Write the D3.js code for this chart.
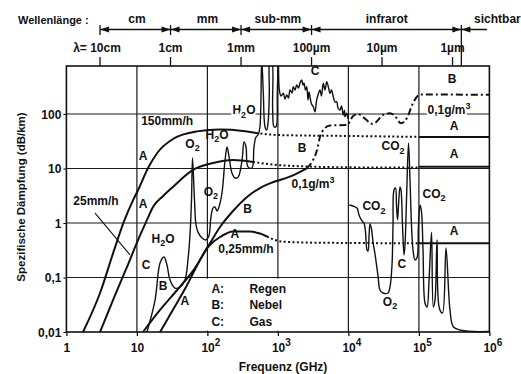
<!DOCTYPE html>
<html>
<head>
<meta charset="utf-8">
<script src="https://cdn.jsdelivr.net/npm/d3@7"></script>
<style>
  body { margin: 0; background: #fff; }
  text { font-family: "Liberation Sans", Arial, sans-serif; font-weight: bold; font-size: 12px; fill: #111; }
</style>
</head>
<body>
<svg id="chart" width="521" height="374"></svg>
<script>
// axes (frequency in GHz, attenuation in dB/km)
const xTicks = [1, 10, 100, 1e3, 1e4, 1e5, 1e6];
const xTickExp = ["", "", "2", "3", "4", "5", "6"];
const yTicks = [0.01, 0.1, 1, 10, 100];
const yTickLabels = ["0,01", "0,1", "1", "10", "100"];

// wavelength scale on top
const lambdaFreqs = [3, 30, 300, 3000, 30000, 300000];
const lambdaLabels = ["λ= 10cm", "1cm", "1mm", "100µm", "10µm", "1µm"];
const bandEdges = [3, 30, 300, 3000, 400000];
const bandNames = ["cm", "mm", "sub-mm", "infrarot", "sichtbar"];
const bandNameFreqs = [10, 100, 1000, 35000, 1.3e6];

// A: Regen (rain) 150mm/h
const rain150 = [[1.72,0.01],[3.0,0.052],[4.6,0.28],[6.6,1.09],[8.8,2.6],[10.4,4.04],[14.4,10.2],[19.9,20.1],[32.5,34.8],[71,48],[150,52],[320,49],[490,45]];
const rain150Dot = [[490,45],[1070,41],[10500,39.5],[1e5,38]];
const rain150Ir = [[1e5,38],[1e6,38]];
// A: Regen 25mm/h
const rain25 = [[3.0,0.01],[4.58,0.0386],[7.24,0.156],[10.4,0.49],[13.9,1.14],[16.9,1.97],[23.4,3.1],[32.5,4.6],[62.5,9.4],[120,12.6],[231,14.3],[443,13.2]];
const rain25Dot = [[443,13.2],[1070,11.5],[10500,10.5],[1e5,10.4]];
const rain25Ir = [[1e5,10.8],[1e6,10.8]];
// A: Regen 0,25mm/h
const rain025 = [[21.3,0.01],[48,0.0615],[105,0.378],[151,0.553],[231,0.70],[402,0.70],[556,0.64],[700,0.565]];
const rain025Dot = [[700,0.565],[1180,0.454],[3580,0.435],[1e5,0.425]];
const rain025Ir = [[1e5,0.425],[1e6,0.425]];

// B: Nebel (fog) 0,1g/m3
const fog = [[12.2,0.01],[21.3,0.0254],[38.3,0.0615],[66.7,0.149],[105,0.394],[151,0.845],[231,1.66],[365,3.0],[556,4.38],[771,5.35],[1480,7.08],[2565,10.1]];
const fogDash = [[2565,10.1],[3150,14.3],[3590,21.8],[3950,37.8],[4510,53],[5490,61.5],[9570,62.8],[11660,91.8],[13700,100],[16100,88],[22300,65.6],[31000,96],[38900,103],[45800,91.8],[55600,67.5],[67700,84.5],[82400,159],[104000,228],[1e6,225]];

// C: Gas
const gasMw = [[13.9,0.01],[18.1,0.0386],[21.3,0.185],[24.2,0.238],[26.7,0.17],[29.5,0.09],[34.7,0.064],[40.8,0.067],[48,0.09],[53,0.21],[56.6,0.6],[59.5,2.64],[61.5,15.6],[65.6,2.64],[68.9,0.92],[73.6,0.68],[83.8,0.53],[95.5,0.49],[105,0.58],[112,1.24],[120,1.88],[128,1.97],[137,1.66],[146,1.97],[161,3.55],[178,14.3],[190,24.8],[203,16.3],[223,8.3],[247,6.7],[272,6.9],[310,14.3],[331,30.6],[353,24.8],[376,10.7],[429,10.2],[458,24.8],[489,37.8],[522,41.2],[556,57.7],[589,1000],[621,240],[656,58.5],[694,50.8],[731,77.6],[755,240],[773,1000],[817,1000],[843,118],[881,58.5],[940,58.5],[980,240],[1013,1000],[1048,275],[1107,214],[1193,240],[1260,188],[1333,223],[1413,197],[1485,275],[1585,243],[1652,317],[1749,275],[1849,340],[1960,300],[2057,370],[2176,421],[2270,340],[2345,366],[2462,275],[2563,317],[2675,181],[2762,253],[2853,207],[2996,152],[3178,136],[3358,110],[3550,181],[3705,223],[3955,275],[4150,214],[4404,366],[4656,275],[4922,392],[5188,317],[5482,240],[5757,275],[6105,207],[6454,166],[6824,168],[7118,129],[7598,118],[7980,140],[8467,96],[8804,118],[8949,89],[9462,103],[9866,81]];
const gasIr = [[10300,2.14],[11620,2.05],[13250,1.88],[14140,1.4],[15590,1.09],[16640,1.0],[17490,0.68],[18360,0.32],[18970,0.306],[19600,0.553],[20250,0.96],[21270,0.776],[22330,0.448],[23840,0.27],[26300,0.107],[28070,0.059],[30970,0.052],[36480,0.052],[38900,0.067],[41560,0.17],[42950,0.92],[44340,4.04],[46560,4.38],[48100,2.14],[49750,1.14],[51400,2.14],[53950,4.58],[55700,4.04],[58500,0.92],[61500,0.259],[63500,0.394],[66700,2.64],[71200,29.4],[74800,6.15],[78500,0.92],[82500,0.32],[88000,0.21],[94000,0.23],[98600,0.92],[103700,2.14],[108900,1.59],[114400,0.32],[122100,0.034],[130500,0.0288],[139300,0.09],[151100,0.68],[160100,0.0288],[169200,0.0386],[180600,0.49],[194600,0.0276],[216100,0.0223],[242300,0.347],[276000,0.0254],[307400,0.0125],[382600,0.0109],[585000,0.0102],[1e6,0.0102]];

// pointer from "25mm/h" to its curve
const pointer25 = [[2.55,1.52],[7.98,0.259]];

// annotations [text, f, value]; _x = subscript, ^x = superscript
const labels = [
  ["150mm/h", 26.9, 62.8], ["25mm/h", 2.63, 2.14], ["A", 12.2, 14.3], ["A", 12.2, 1.88],
  ["C", 13.5, 0.143], ["H_2O", 23.5, 0.43], ["B", 23.5, 0.059], ["A", 48, 0.031],
  ["O_2", 61.5, 23.8], ["H_2O", 137, 34.8], ["O_2", 112, 3.13], ["B", 371, 1.53],
  ["A", 246, 0.53], ["0,25mm/h", 353, 0.28], ["C", 3360, 520], ["B", 2200, 20.1],
  ["0,1g/m^3", 3150, 4.38], ["CO_2", 43000, 21.8], ["CO_2", 163700, 2.88], ["CO_2", 23000, 1.73],
  ["C", 57400, 0.149], ["O_2", 38900, 0.030], ["A", 315000, 0.60], ["B", 295000, 371],
  ["A", 315000, 50.8], ["A", 315000, 15.6]
];
// annotations that sit on a grid line
const gridLabels = [["H_2O", 330, 100], ["0,1g/m^3", 267000, 100]];

const legendKeys = ["A:", "B:", "C:"];
const legendNames = ["Regen", "Nebel", "Gas"];

const svg = d3.select("#chart");
const x = d3.scaleLog().domain([1, 1e6]).range([66.4, 489.4]);
const y = d3.scaleLog().domain([0.01, 760]).range([332, 66]);

function rich(t, s) {
  let shift = 0;
  s.split(/([_^].)/).filter(Boolean).forEach(p => {
    let target = 0, str = p, small = false;
    if (p[0] === "_") { target = 3.5; str = p[1]; small = true; }
    else if (p[0] === "^") { target = -5; str = p[1]; small = true; }
    const ts = t.append("tspan").attr("dy", target - shift).text(str);
    if (small) ts.style("font-size", "9px");
    shift = target;
  });
}

// grid
const grid = svg.append("g").attr("stroke", "#1a1a1a").attr("stroke-width", 1.2);
grid.selectAll(".gy").data(yTicks.slice(1)).enter().append("line")
  .attr("x1", x(1)).attr("x2", x(1e6)).attr("y1", d => y(d)).attr("y2", d => y(d));
grid.selectAll(".gx").data(xTicks.slice(1, -1)).enter().append("line")
  .attr("x1", d => x(d)).attr("x2", d => x(d)).attr("y1", y(760)).attr("y2", y(0.01));

// legend background hides the grid
svg.append("rect").attr("x", x(100) - 3).attr("y", y(0.1) + 1.2)
  .attr("width", 95).attr("height", y(0.01) - y(0.1) - 2.5).attr("fill", "#fff");

// axes
const yAxis = svg.append("g").attr("transform", `translate(${x(1)},0)`)
  .call(d3.axisLeft(y).tickValues(yTicks).tickSize(3).tickPadding(2).tickFormat((d, i) => yTickLabels[i]));
yAxis.select(".domain").remove();
yAxis.selectAll("text").attr("font-family", null).attr("font-size", null).attr("dy", "0.36em");

const xAxis = svg.append("g").attr("transform", `translate(0,${y(0.01)})`)
  .call(d3.axisBottom(x).tickValues(xTicks).tickSize(4).tickFormat(""));
xAxis.select(".domain").remove();
xAxis.selectAll(".tick line").attr("stroke-width", 1.2);
xAxis.selectAll(".tick text").each(function (d, i) {
  const t = d3.select(this).attr("y", 11).attr("dy", "0.71em");
  if (xTickExp[i] === "") {
    t.text(d === 1 ? "1" : "10");
  } else {
    t.text(null).attr("text-anchor", "start").attr("x", -6.5);
    t.append("tspan").text("10");
    t.append("tspan").attr("dy", -6).style("font-size", "10px").text(xTickExp[i]);
  }
});

// frame
svg.append("rect").attr("x", x(1)).attr("y", y(760)).attr("width", x(1e6) - x(1))
  .attr("height", y(0.01) - y(760)).attr("fill", "none").attr("stroke", "#111").attr("stroke-width", 1.6);

// curves
svg.append("clipPath").attr("id", "plot").append("rect")
  .attr("x", x(1)).attr("y", y(760)).attr("width", x(1e6) - x(1)).attr("height", y(0.01) - y(760) + 1);
const plot = svg.append("g").attr("clip-path", "url(#plot)").attr("fill", "none").attr("stroke", "#111");
const smooth = d3.line().x(d => x(d[0])).y(d => y(d[1])).curve(d3.curveMonotoneX);
const spiky = d3.line().x(d => x(d[0])).y(d => y(d[1])).curve(d3.curveCatmullRom.alpha(0.5));

[rain150, rain150Ir, rain25, rain25Ir, rain025, rain025Ir, fog].forEach(s =>
  plot.append("path").attr("d", smooth(s)).attr("stroke-width", 2));
[rain150Dot, rain25Dot, rain025Dot].forEach(s =>
  plot.append("path").attr("d", smooth(s)).attr("stroke-width", 2).attr("stroke-dasharray", "2,2.4"));
plot.append("path").attr("d", smooth(fogDash)).attr("stroke-width", 2).attr("stroke-dasharray", "7,3,2,3");
[gasMw, gasIr].forEach(s =>
  plot.append("path").attr("d", spiky(s)).attr("stroke-width", 1.4).attr("stroke-linejoin", "round"));
plot.append("path").attr("d", d3.line().x(d => x(d[0])).y(d => y(d[1]))(pointer25)).attr("stroke-width", 1.1);

// annotations
labels.forEach(l => {
  const t = svg.append("text").attr("x", x(l[1])).attr("y", y(l[2])).attr("dy", "0.36em").attr("text-anchor", "middle");
  rich(t, l[0]);
});
gridLabels.forEach(l => {
  const t = svg.append("text").attr("x", x(l[1])).attr("y", y(l[2])).attr("dy", "0.36em").attr("text-anchor", "middle")
    .attr("stroke", "#fff").attr("stroke-width", 4).attr("paint-order", "stroke");
  rich(t, l[0]);
});

// legend
legendKeys.forEach((k, i) => {
  svg.append("text").attr("x", x(100) + 4).attr("y", y(0.1) + 15 + i * 16.5).text(k);
  svg.append("text").attr("x", x(100) + 42).attr("y", y(0.1) + 15 + i * 16.5).text(legendNames[i]);
});

// axis titles
svg.append("text").attr("x", 283).attr("y", 371).attr("text-anchor", "middle").text("Frequenz (GHz)");
svg.append("text").attr("transform", "translate(25,197) rotate(-90)").attr("text-anchor", "middle")
  .style("font-size", "11.5px").text("Spezifische Dämpfung (dB/km)");

// wavelength scale
const lam = svg.append("g").attr("stroke", "#111").attr("stroke-width", 1.3);
lam.selectAll(".lt").data(lambdaFreqs).enter().append("line")
  .attr("x1", d => x(d)).attr("x2", d => x(d)).attr("y1", 57).attr("y2", y(760));
svg.selectAll(".ll").data(lambdaFreqs).enter().append("text")
  .attr("x", (d, i) => x(d) + (i === 0 ? -3 : 0)).attr("y", 52).attr("text-anchor", "middle")
  .text((d, i) => lambdaLabels[i]);

const arrowY = 29.5;
lam.append("line").attr("x1", x(bandEdges[0])).attr("x2", 487).attr("y1", arrowY).attr("y2", arrowY);
lam.selectAll(".bt").data(bandEdges).enter().append("line")
  .attr("x1", d => x(d)).attr("x2", d => x(d)).attr("y1", 25)
  .attr("y2", (d, i) => i === bandEdges.length - 1 ? y(760) : 35);
bandEdges.forEach((e, i) => {
  const ex = x(e);
  if (i > 0) svg.append("path").attr("d", `M${ex},${arrowY}L${ex - 9},${arrowY - 3}L${ex - 9},${arrowY + 3}Z`).attr("fill", "#111");
  svg.append("path").attr("d", `M${ex},${arrowY}L${ex + 9},${arrowY - 3}L${ex + 9},${arrowY + 3}Z`).attr("fill", "#111");
});
svg.selectAll(".bn").data(bandNames).enter().append("text")
  .attr("x", (d, i) => x(bandNameFreqs[i])).attr("y", 23).attr("text-anchor", "middle").text(d => d);
svg.append("text").attr("x", 18).attr("y", 24).style("font-size", "11px").text("Wellenlänge :");
</script>
</body>
</html>
